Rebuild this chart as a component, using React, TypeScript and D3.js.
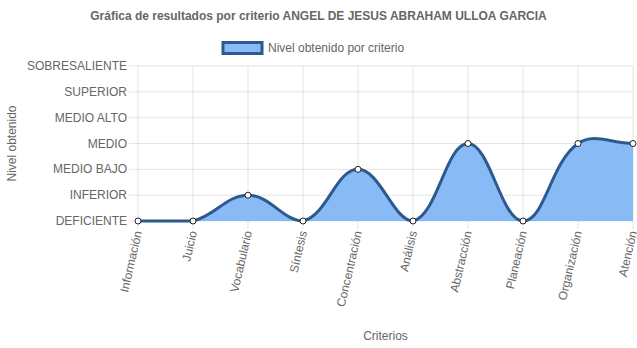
import React from "react";
import * as d3 from "d3";

const categories = ["Información", "Juicio", "Vocabulario", "Síntesis", "Concentración", "Análisis", "Abstracción", "Planeación", "Organización", "Atención"];
const values = [0, 0, 1, 0, 2, 0, 3, 0, 3, 3];
const levelLabels = ["DEFICIENTE", "INFERIOR", "MEDIO BAJO", "MEDIO", "MEDIO ALTO", "SUPERIOR", "SOBRESALIENTE"];

const W = 637, H = 348;
const left = 138, right = 633, top = 66, bottom = 221;
const FONT = "'Liberation Sans', Arial, Helvetica, sans-serif";
const TXT = "#666";
const LINE = "#2d5a8e";
const FILL = "#88bbf5";

function splinePath(pts: [number, number][], t: number, yMin: number, yMax: number) {
  const n = pts.length;
  const cps = pts.map((p, i) => {
    const prev = pts[i - 1] || p;
    const next = pts[i + 1] || p;
    const d01 = Math.hypot(p[0] - prev[0], p[1] - prev[1]);
    const d12 = Math.hypot(next[0] - p[0], next[1] - p[1]);
    let s01 = d01 / (d01 + d12);
    let s12 = d12 / (d01 + d12);
    if (!isFinite(s01)) s01 = 0;
    if (!isFinite(s12)) s12 = 0;
    const fa = t * s01, fb = t * s12;
    const clampY = (y: number) => Math.max(yMin, Math.min(yMax, y));
    return {
      prev: [p[0] - fa * (next[0] - prev[0]), clampY(p[1] - fa * (next[1] - prev[1]))],
      next: [p[0] + fb * (next[0] - prev[0]), clampY(p[1] + fb * (next[1] - prev[1]))],
    };
  });
  let d = `M${pts[0][0]},${pts[0][1]}`;
  for (let i = 1; i < n; i++) {
    const a = cps[i - 1].next, b = cps[i].prev;
    d += `C${a[0]},${a[1]} ${b[0]},${b[1]} ${pts[i][0]},${pts[i][1]}`;
  }
  return d;
}

export default function App() {
  const x = d3.scalePoint<string>().domain(categories).range([left, right]);
  const y = d3.scaleLinear().domain([0, 6]).range([bottom, top]);
  const pts: [number, number][] = categories.map((c, i) => [x(c)!, y(values[i])]);
  const line = splinePath(pts, 0.4, top, bottom);
  const area = `${line}L${pts[pts.length - 1][0]},${y(0)}L${pts[0][0]},${y(0)}Z`;
  const ticks = d3.range(0, 7);

  return (
    <svg width={W} height={H} style={{ position: "absolute", left: 0, top: 0, background: "#fff" }} fontFamily={FONT}>
      <text x={W / 2} y={20} textAnchor="middle" fontSize={12} fontWeight="bold" fill={TXT}>
        Gráfica de resultados por criterio ANGEL DE JESUS ABRAHAM ULLOA GARCIA
      </text>
      {/* legend */}
      <rect x={223} y={42.5} width={39} height={11} fill={FILL} stroke={LINE} strokeWidth={3} />
      <text x={268} y={52} fontSize={12} fill={TXT}>Nivel obtenido por criterio</text>

      {/* horizontal grid */}
      {ticks.map((t) => (
        <g key={t}>
          <line x1={129} x2={right} y1={y(t)} y2={y(t)} stroke="rgba(0,0,0,0.1)" />
          <text x={127} y={y(t) + 4} textAnchor="end" fontSize={12} fill={TXT}>{levelLabels[t]}</text>
        </g>
      ))}
      {/* vertical grid */}
      {categories.map((c) => (
        <line key={c} x1={x(c)} x2={x(c)} y1={top} y2={bottom + 8} stroke="rgba(0,0,0,0.1)" />
      ))}

      <path d={area} fill={FILL} />
      <path d={line} fill="none" stroke={LINE} strokeWidth={3} />
      {pts.map((p, i) => (
        <circle key={i} cx={p[0]} cy={p[1]} r={3} fill="#fff" stroke="#222" strokeWidth={1} />
      ))}

      {categories.map((c) => (
        <text key={c} transform={`translate(${x(c)! + 4},${bottom + 11}) rotate(-77)`} textAnchor="end" fontSize={12} fill={TXT}>
          {c}
        </text>
      ))}

      <text transform={`translate(16,${(top + bottom) / 2}) rotate(-90)`} textAnchor="middle" fontSize={12} fill={TXT}>Nivel obtenido</text>
      <text x={(left + right) / 2} y={340} textAnchor="middle" fontSize={12} fill={TXT}>Criterios</text>
    </svg>
  );
}
